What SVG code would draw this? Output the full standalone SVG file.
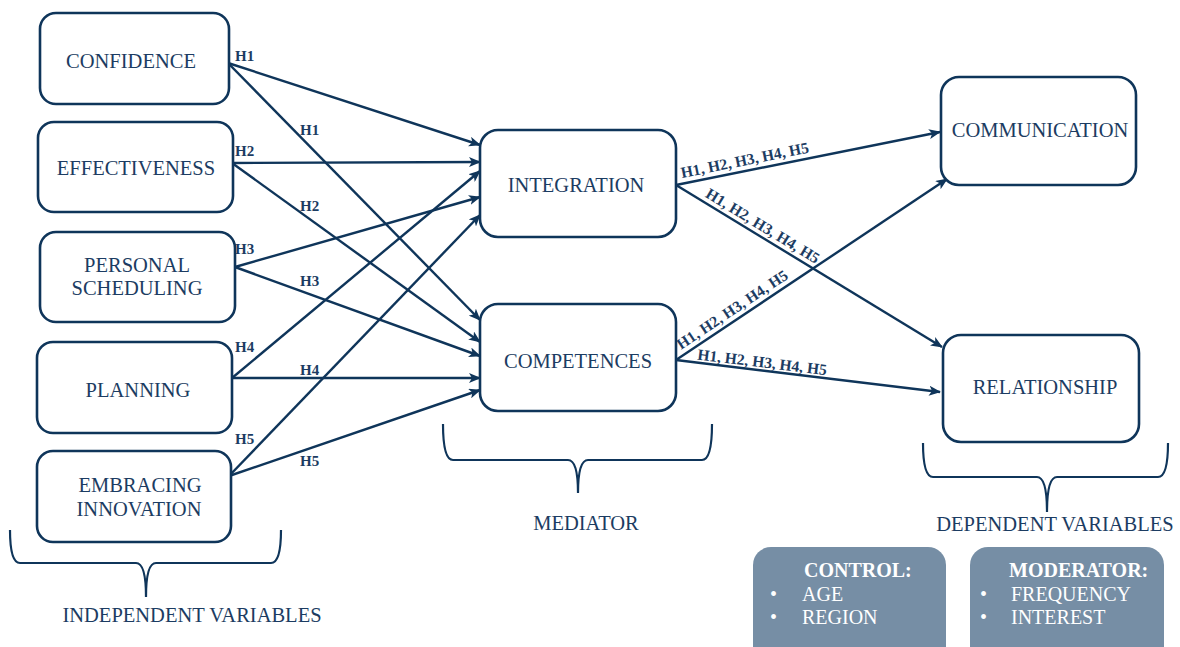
<svg xmlns="http://www.w3.org/2000/svg" width="1180" height="647" viewBox="0 0 1180 647">
<style>
.box{fill:#fff;stroke:#0f355a;stroke-width:2.6}
.t{font-family:"Liberation Serif",serif;font-size:20.5px;fill:#1c3c62;text-anchor:middle}
.h{font-family:"Liberation Serif",serif;font-size:15px;font-weight:bold;fill:#1c3c62}
.hl{font-family:"Liberation Serif",serif;font-size:15.5px;font-weight:bold;fill:#1c3c62}
.c{stroke:#0f355a;stroke-width:2.4;fill:none;marker-end:url(#ah)}
.br{stroke:#0f355a;stroke-width:2.2;fill:none}
.gb{fill:#768ea5}
.w{font-family:"Liberation Serif",serif;font-size:20px;fill:#fff}
</style>
<defs>
<marker id="ah" markerUnits="userSpaceOnUse" markerWidth="12" markerHeight="10" refX="11" refY="5" orient="auto">
<path d="M0,0 L12,5 L0,10 L3,5 Z" fill="#0f355a"/>
</marker>
</defs>
<rect width="1180" height="647" fill="#fff"/>
<g id="connectors">
<line class="c" x1="228" y1="63" x2="480" y2="145"/>
<line class="c" x1="228" y1="63" x2="480" y2="320"/>
<line class="c" x1="232" y1="163" x2="480" y2="162"/>
<line class="c" x1="232" y1="163" x2="480" y2="342"/>
<line class="c" x1="235" y1="267" x2="480" y2="197"/>
<line class="c" x1="235" y1="267" x2="480" y2="356"/>
<line class="c" x1="232" y1="378" x2="480" y2="171"/>
<line class="c" x1="232" y1="378" x2="480" y2="378"/>
<line class="c" x1="229" y1="476" x2="480" y2="215"/>
<line class="c" x1="229" y1="476" x2="480" y2="390"/>
<line class="c" x1="676" y1="185" x2="940" y2="132"/>
<line class="c" x1="676" y1="185" x2="942" y2="347"/>
<line class="c" x1="676" y1="360" x2="947" y2="179"/>
<line class="c" x1="676" y1="360" x2="940" y2="392"/>
<text class="h" x="235" y="61">H1</text>
<text class="h" x="300" y="135">H1</text>
<text class="h" x="235" y="156">H2</text>
<text class="h" x="300" y="211">H2</text>
<text class="h" x="235" y="254">H3</text>
<text class="h" x="300" y="286">H3</text>
<text class="h" x="235" y="352">H4</text>
<text class="h" x="300" y="375">H4</text>
<text class="h" x="235" y="444">H5</text>
<text class="h" x="300" y="466">H5</text>
<text class="hl" transform="translate(682,178) rotate(-11.35)">H1, H2, H3, H4, H5</text>
<text class="hl" transform="translate(704.5,196.5) rotate(31.3)">H1, H2, H3, H4, H5</text>
<text class="hl" transform="translate(681,350) rotate(-33.7)">H1, H2, H3, H4, H5</text>
<text class="hl" transform="translate(697,359.5) rotate(6.9)">H1, H2, H3, H4, H5</text>
</g>
<g id="confidence"><rect class="box" x="40" y="13" width="189" height="91" rx="16"/><text class="t" x="131" y="68">CONFIDENCE</text></g>
<g id="effectiveness"><rect class="box" x="38" y="122" width="195" height="90" rx="16"/><text class="t" x="136" y="175">EFFECTIVENESS</text></g>
<g id="personal-scheduling"><rect class="box" x="40" y="232" width="195" height="90" rx="16"/><text class="t" x="137" y="272">PERSONAL</text><text class="t" x="137" y="295">SCHEDULING</text></g>
<g id="planning"><rect class="box" x="37" y="342" width="195" height="91" rx="16"/><text class="t" x="138" y="397">PLANNING</text></g>
<g id="embracing-innovation"><rect class="box" x="37" y="451" width="194" height="91" rx="16"/><text class="t" x="140" y="492">EMBRACING</text><text class="t" x="139" y="516">INNOVATION</text></g>
<g id="integration"><rect class="box" x="480" y="130" width="196" height="107" rx="18"/><text class="t" x="576" y="192">INTEGRATION</text></g>
<g id="competences"><rect class="box" x="480" y="304" width="196" height="107" rx="18"/><text class="t" x="578" y="368">COMPETENCES</text></g>
<g id="communication"><rect class="box" x="941" y="77" width="195" height="108" rx="18"/><text class="t" x="1040" y="137">COMMUNICATION</text></g>
<g id="relationship"><rect class="box" x="943" y="335" width="196" height="107" rx="18"/><text class="t" x="1045" y="394">RELATIONSHIP</text></g>
<g id="independent-variables">
<path class="br" d="M10,530 Q10,563 20,563 L136,563 Q146,563 146,597 Q146,563 156,563 L271,563 Q281,563 281,530"/>
<text class="t" x="192" y="622">INDEPENDENT VARIABLES</text>
</g>
<g id="mediator">
<path class="br" d="M443,424 Q443,460 453,460 L568,460 Q578,460 578,493 Q578,460 588,460 L702,460 Q712,460 712,424"/>
<text class="t" x="586" y="530">MEDIATOR</text>
</g>
<g id="dependent-variables">
<path class="br" d="M923,443 Q923,477 933,477 L1037,477 Q1047,477 1047,512 Q1047,477 1057,477 L1158,477 Q1168,477 1168,443"/>
<text class="t" x="1055" y="531">DEPENDENT VARIABLES</text>
</g>
<g id="control">
<rect class="gb" x="753" y="547" width="193" height="120" rx="18"/>
<text class="w" x="804" y="577" font-weight="bold">CONTROL:</text>
<text class="w" x="770" y="601">•</text><text class="w" x="802" y="601">AGE</text>
<text class="w" x="770" y="624">•</text><text class="w" x="802" y="624">REGION</text>
</g>
<g id="moderator">
<rect class="gb" x="970" y="547" width="194" height="120" rx="18"/>
<text class="w" x="1009" y="577" font-weight="bold">MODERATOR:</text>
<text class="w" x="980" y="601">•</text><text class="w" x="1011" y="601">FREQUENCY</text>
<text class="w" x="980" y="624">•</text><text class="w" x="1011" y="624">INTEREST</text>
</g>
</svg>
